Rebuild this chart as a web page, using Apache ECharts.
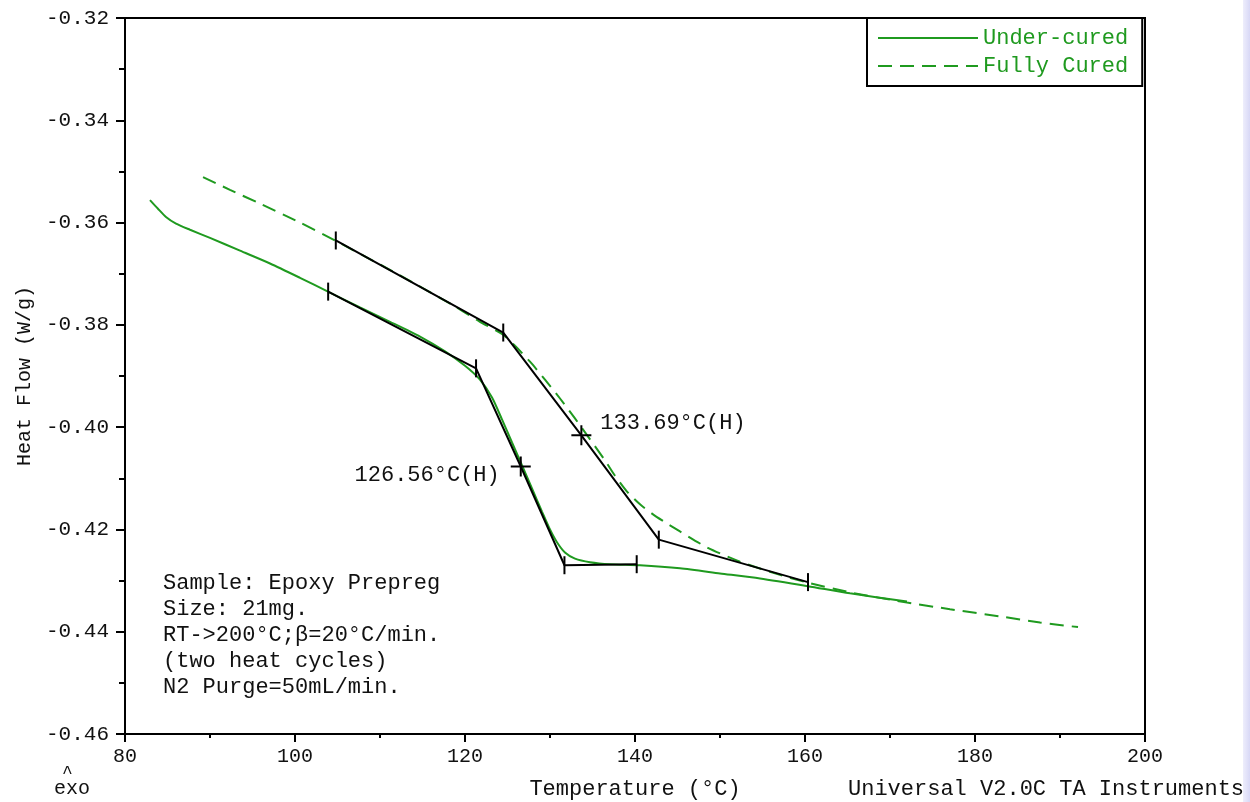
<!DOCTYPE html>
<html>
<head>
<meta charset="utf-8">
<script src="https://cdn.jsdelivr.net/npm/echarts@6/dist/echarts.min.js"></script>
<style>
html,body{margin:0;padding:0;background:#fff;}
#chart{width:1250px;height:802px;}
</style>
</head>
<body>
<div id="chart"></div>
<script>
// ---- data (Temperature °C, Heat Flow W/g) ----
var underCured = [
  [82.94,-0.3556],[83.88,-0.3573],[84.82,-0.3589],[86.00,-0.3602],[87.65,-0.3614],
  [90.00,-0.3630],[93.53,-0.3655],[97.06,-0.3680],[100.59,-0.3708],[103.88,-0.3735],
  [107.65,-0.3766],[111.18,-0.3794],[114.71,-0.3823],[117.65,-0.3852],[120.00,-0.3880],
  [121.76,-0.3907],[123.18,-0.3942],[124.35,-0.3985],[125.53,-0.4030],[126.71,-0.4075],
  [127.88,-0.4120],[129.06,-0.4165],[130.00,-0.4200],[130.82,-0.4225],[131.76,-0.4245],
  [132.94,-0.4257],[134.71,-0.4264],[137.06,-0.4268],[140.59,-0.4270],[145.29,-0.4276],
  [150.00,-0.4286],[154.71,-0.4296],[160.35,-0.4311],[165.29,-0.4325],[172.00,-0.4341]
];
var fullyCured = [
  [89.18,-0.3511],[92.35,-0.3536],[95.88,-0.3563],[100.59,-0.3600],[104.82,-0.3636],
  [110.00,-0.3682],[114.71,-0.3725],[118.82,-0.3764],[121.76,-0.3794],[124.47,-0.3819],
  [125.88,-0.3841],[127.65,-0.3872],[129.41,-0.3907],[131.18,-0.3944],[132.94,-0.3983],
  [134.71,-0.4024],[136.47,-0.4065],[137.65,-0.4095],[139.06,-0.4126],[140.59,-0.4151],
  [142.00,-0.4169],[143.53,-0.4186],[145.29,-0.4204],[148.47,-0.4235],[152.35,-0.4263],
  [156.47,-0.4286],[160.35,-0.4304],[165.29,-0.4323],[172.00,-0.4343],[177.06,-0.4356],
  [182.94,-0.4370],[187.65,-0.4382],[192.12,-0.4391]
];
var underTangent = [[103.9,-0.3735],[121.3,-0.3885],[126.56,-0.4077],[131.7,-0.4270],[140.2,-0.4268]];
var fullyTangent = [[104.8,-0.3635],[124.5,-0.3815],[133.69,-0.4016],[142.8,-0.4220],[160.35,-0.4303]];
var tickPoints = [[103.9,-0.3735],[121.3,-0.3885],[131.7,-0.4270],[140.2,-0.4268],
                  [104.8,-0.3635],[124.5,-0.3815],[142.8,-0.4220],[160.35,-0.4303]];
var midPoints = [
  {value:[126.56,-0.4077], label:'126.56°C(H)', side:'left'},
  {value:[133.69,-0.4016], label:'133.69°C(H)', side:'right'}
];
var sampleInfo = ['Sample: Epoxy Prepreg','Size: 21mg.','RT->200°C;β=20°C/min.','(two heat cycles)','N2 Purge=50mL/min.'];
var seriesNames = ['Under-cured','Fully Cured'];

var FONT = 'Liberation Mono';
var GREEN = '#1f9a1f';

var chart = echarts.init(document.getElementById('chart'), null, {renderer:'canvas'});
chart.setOption({
  animation:false,
  backgroundColor:'#fff',
  grid:{left:125, right:105, top:18, bottom:68, outerBoundsMode:'none', containLabel:false,
    show:true, borderColor:'#000', borderWidth:2, backgroundColor:'transparent'},
  legend:{
    data:seriesNames, orient:'vertical', left:867, top:18,
    itemWidth:100, itemHeight:14, itemGap:6,
    padding:[9,14,9,10], borderColor:'#000', borderWidth:2, backgroundColor:'#fff',
    itemStyle:{opacity:0, borderWidth:0},
    textStyle:{color:GREEN, fontFamily:FONT, fontSize:22}
  },
  xAxis:{
    type:'value', min:80, max:200, interval:20,
    name:'Temperature (°C)', nameLocation:'middle', nameGap:44,
    nameTextStyle:{color:'#111', fontFamily:FONT, fontSize:22},
    axisLine:{lineStyle:{color:'#000', width:2}},
    axisTick:{show:true, inside:false, length:8, lineStyle:{color:'#000', width:2}},
    minorTick:{show:true, splitNumber:2, length:4, lineStyle:{color:'#000', width:2}},
    axisLabel:{color:'#111', fontFamily:FONT, fontSize:20, margin:13},
    splitLine:{show:false}
  },
  yAxis:{
    type:'value', min:-0.46, max:-0.32, interval:0.02,
    name:'Heat Flow (W/g)', nameLocation:'middle', nameGap:80, nameRotate:90,
    nameTextStyle:{color:'#111', fontFamily:FONT, fontSize:20},
    axisLine:{lineStyle:{color:'#000', width:2}},
    axisTick:{show:true, inside:false, length:9, lineStyle:{color:'#000', width:2}},
    minorTick:{show:true, splitNumber:2, length:6, lineStyle:{color:'#000', width:2}},
    axisLabel:{color:'#111', fontFamily:FONT, fontSize:21, margin:16,
      formatter:function(v){return v.toFixed(2);}},
    splitLine:{show:false}
  },
  series:[
    {name:seriesNames[0], type:'line', data:underCured, symbol:'none', smooth:0.25,
      lineStyle:{color:GREEN, width:2}, itemStyle:{color:GREEN}, z:2},
    {name:seriesNames[1], type:'line', data:fullyCured, symbol:'none', smooth:0.25,
      lineStyle:{color:GREEN, width:2, type:[14,8]}, itemStyle:{color:GREEN}, z:2},
    {name:'tan1', type:'line', data:underTangent, symbol:'none', lineStyle:{color:'#000', width:2}, z:3},
    {name:'tan2', type:'line', data:fullyTangent, symbol:'none', lineStyle:{color:'#000', width:2}, z:3},
    {name:'ticks', type:'scatter', data:tickPoints, symbol:'path://M0,0h2v18h-2z', symbolSize:[2,18],
      itemStyle:{color:'#000', opacity:1}, z:4},
    {name:'mids', type:'scatter', z:4,
      data:midPoints.map(function(p){
        return {value:p.value, label:{show:true, formatter:p.label, position:p.side,
          offset: p.side==='left' ? [-6,9] : [4,-12]}};
      }),
      symbol:'path://M9,0h2v20h-2zM0,9h20v2h-20z', symbolSize:[20,20],
      itemStyle:{color:'#000', opacity:1},
      label:{color:'#111', fontFamily:FONT, fontSize:22}
    }
  ],
  graphic:[
    {type:'rect', right:0, top:0, shape:{width:7, height:802}, z:-10,
      style:{fill:new echarts.graphic.LinearGradient(0,0,1,0,[{offset:0,color:'#eeeefc'},{offset:1,color:'#d8d8f6'}])}},
    {type:'text', left:163, top:570, z:10,
      style:{text:sampleInfo.join('\n'), font:'22px "'+FONT+'"', fill:'#111', lineHeight:26}},
    {type:'text', left:54, top:779, z:10, style:{text:'exo', font:'20px "'+FONT+'"', fill:'#111'}},
    {type:'text', left:62, top:764, z:10, style:{text:'^', font:'18px "'+FONT+'"', fill:'#111'}},
    {type:'text', left:848, top:778, z:10, style:{text:'Universal V2.0C TA Instruments', font:'22px "'+FONT+'"', fill:'#111'}}
  ]
});
</script>
</body>
</html>
